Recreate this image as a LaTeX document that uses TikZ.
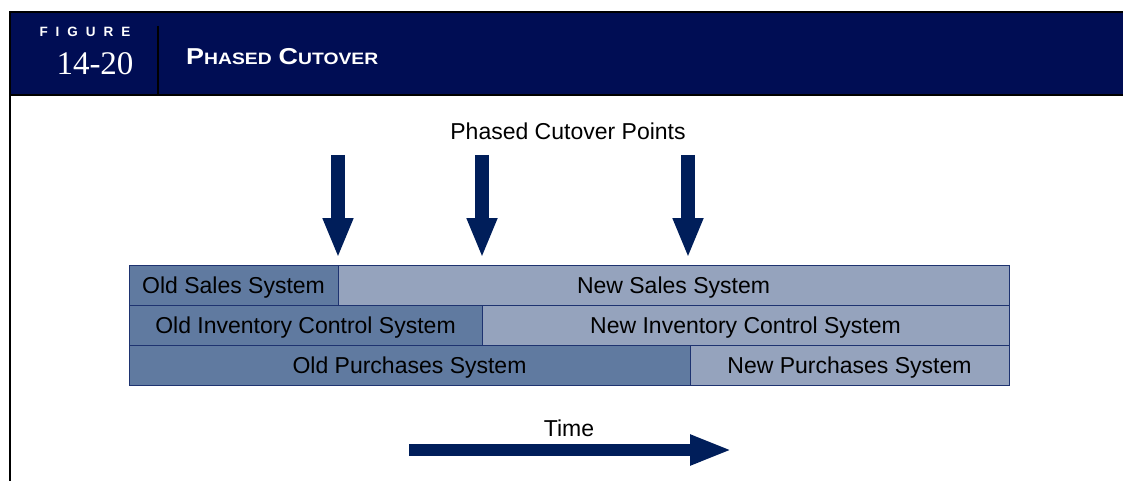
\documentclass[tikz,border=0pt]{standalone}
\usepackage{fontspec}
\setmainfont{Liberation Sans}
\newfontfamily\figserif{Liberation Serif}
\usetikzlibrary{positioning,arrows.meta}
\definecolor{headnavy}{RGB}{0,13,84}
\definecolor{arrownavy}{RGB}{0,30,90}
\definecolor{oldblue}{RGB}{96,122,160}
\definecolor{newblue}{RGB}{149,163,189}
\definecolor{edgeblue}{RGB}{30,51,112}
\newcommand{\smallcapsword}[2]{{\fontsize{23}{23}\selectfont #1}{\fontsize{16.5}{17}\selectfont #2}}
\tikzset{
  sysbox/.style={draw=edgeblue, line width=1pt, inner sep=0pt, outer sep=0pt,
    minimum height=40pt, anchor=north west, text height=16.5pt, text depth=0pt,
    font=\fontsize{23}{27}\selectfont},
  oldsys/.style={sysbox, fill=oldblue},
  newsys/.style={sysbox, fill=newblue},
  cutarrow/.style={draw=arrownavy, line width=14pt,
    -{Triangle[width=28pt,length=40pt]}, shorten >=7pt},
  timearrow/.style={draw=arrownavy, line width=12pt,
    -{Triangle[width=28pt,length=42pt]}},
  plainlabel/.style={inner sep=0pt, text height=16.5pt, text depth=0pt,
    font=\fontsize{23}{27}\selectfont}
}
\begin{document}
\begin{tikzpicture}[x=1pt,y=-1pt]
  \useasboundingbox (0,0) rectangle (1123,481);
  %%% Header band
  \fill[headnavy] (10,12) rectangle (1123,95);
  \draw[black, line width=2.5pt] (1123,12) -- (10,12) -- (10,481);
  \draw[black, line width=2.5pt] (10,95) -- (1123,95);
  \draw[black, line width=2.5pt] (158,26) -- (158,95);
  \node[text=white, inner sep=0pt, font=\bfseries\fontsize{13.5}{14}\selectfont] (figword) at (85,32)
    {F\hspace{8pt}I\hspace{8pt}G\hspace{8pt}U\hspace{8pt}R\hspace{8pt}E};
  \node[text=white, inner sep=0pt, font=\figserif\fontsize{33}{36}\selectfont] (fignum) at (95,64) {14-20};
  \node[text=white, inner sep=0pt, anchor=west, font=\bfseries] (figtitle) at (186,57)
    {\scalebox{1.17}[1]{\smallcapsword{P}{HASED}\hspace{6pt}\smallcapsword{C}{UTOVER}}};
  %%% System bars
  \node[oldsys, minimum width=209pt] (oldsales) at (129,265) {Old Sales System};
  \node[newsys, minimum width=671pt, anchor=west, right=0pt of oldsales] (newsales) {New Sales System};
  \node[oldsys, minimum width=353pt] (oldinv) at (oldsales.south west) {Old Inventory Control System};
  \node[newsys, minimum width=527pt, anchor=west, right=0pt of oldinv] (newinv) {New Inventory Control System};
  \node[oldsys, minimum width=561pt] (oldpurch) at (oldinv.south west) {Old Purchases System};
  \node[newsys, minimum width=319pt, anchor=west, right=0pt of oldpurch] (newpurch) {New Purchases System};
  %%% Cutover arrows
  \node[plainlabel] (cutlabel) at (568,131) {Phased Cutover Points};
  \coordinate (cut1) at (338,155);
  \coordinate (cut2) at (482,155);
  \coordinate (cut3) at (688,155);
  \draw[cutarrow] (cut1) -- (cut1 |- newsales.north);
  \draw[cutarrow] (cut2) -- (cut2 |- newsales.north);
  \draw[cutarrow] (cut3) -- (cut3 |- newsales.north);
  %%% Time arrow
  \node[plainlabel] (timelabel) at (569,428) {Time};
  \coordinate (tstart) at (409,450);
  \coordinate (tend) at (732,450);
  \draw[timearrow] (tstart) -- (tend);
\end{tikzpicture}
\end{document}
